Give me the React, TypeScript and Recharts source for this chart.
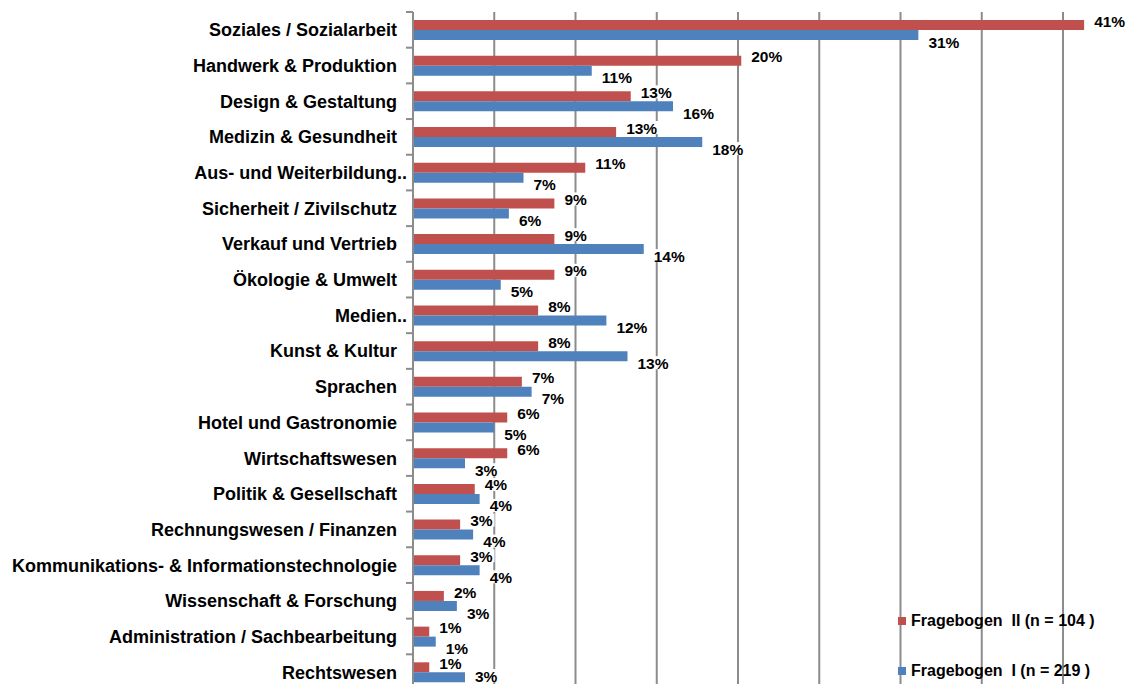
import React from 'react';
import { BarChart, Bar, XAxis, YAxis, CartesianGrid, LabelList, Legend } from 'recharts';

const categories = [
  'Soziales / Sozialarbeit',
  'Handwerk & Produktion',
  'Design & Gestaltung',
  'Medizin & Gesundheit',
  'Aus- und Weiterbildung..',
  'Sicherheit / Zivilschutz',
  'Verkauf und Vertrieb',
  'Ökologie & Umwelt',
  'Medien..',
  'Kunst & Kultur',
  'Sprachen',
  'Hotel und Gastronomie',
  'Wirtschaftswesen',
  'Politik & Gesellschaft',
  'Rechnungswesen / Finanzen',
  'Kommunikations- & Informationstechnologie',
  'Wissenschaft & Forschung',
  'Administration / Sachbearbeitung',
  'Rechtswesen',
];

// Fragebogen II (n = 104), percent
const fragebogenII = [41.3, 20.2, 13.4, 12.5, 10.6, 8.7, 8.7, 8.7, 7.7, 7.7, 6.7, 5.8, 5.8, 3.8, 2.9, 2.9, 1.9, 1.0, 1.0];
// Fragebogen I (n = 219), percent
const fragebogenI = [31.1, 11.0, 16.0, 17.8, 6.8, 5.9, 14.2, 5.4, 11.9, 13.2, 7.3, 5.0, 3.2, 4.1, 3.7, 4.1, 2.7, 1.4, 3.2];

const seriesNames = ['Fragebogen  II (n = 104 )', 'Fragebogen  I (n = 219 )'];
const xTicks = [0, 5, 10, 15, 20, 25, 30, 35, 40];

const data = categories.map((c, i) => ({ category: c, f2: fragebogenII[i], f1: fragebogenI[i] }));

const RED = '#C0504D';
const BLUE = '#4F81BD';
const GRID = '#8C8C8C';
const FONT = '"Liberation Sans", Arial, Helvetica, sans-serif';
const PLOT_TOP = 4;
const PLOT_H = 678;
const BAND = PLOT_H / categories.length;
const AXIS_X = 405;
const X_MAX = 44;

const CategoryTick = (props: any) => {
  const { y, payload, index } = props;
  const label = String(payload.value);
  const hang = label.endsWith('..');
  const main = hang ? label.slice(0, -2) : label;
  const tx = AXIS_X - 16;
  const yy = Number(y);
  return (
    <g>
      <line x1={AXIS_X - 7} x2={AXIS_X} y1={yy - BAND / 2} y2={yy - BAND / 2} stroke={GRID} strokeWidth={2} />
      {index === categories.length - 1 && (
        <line x1={AXIS_X - 7} x2={AXIS_X} y1={yy + BAND / 2} y2={yy + BAND / 2} stroke={GRID} strokeWidth={2} />
      )}
      <text x={tx} y={yy} dy="0.36em" textAnchor="end" fontFamily={FONT} fontWeight={700} fontSize={18} fill="#000">
        {main}
      </text>
      {hang && (
        <text x={tx} y={yy} dy="0.36em" textAnchor="start" fontFamily={FONT} fontWeight={700} fontSize={18} fill="#000">
          ..
        </text>
      )}
    </g>
  );
};

const makeLabel = (shift: number) => (props: any) => {
  const x = Number(props.x);
  const y = Number(props.y);
  const width = Number(props.width);
  const height = Number(props.height);
  const text = Math.round(Number(props.value)) + '%';
  const fs = 15.5;
  const tx = x + width + 10;
  const cy = Math.min(y + height / 2 + shift, PLOT_TOP + PLOT_H - 14);
  const w = (text.length - 1) * fs * 0.556 + fs * 0.889 + 4;
  return (
    <g>
      <rect x={tx - 2} y={cy - 7} width={w} height={13} fill="#fff" />
      <text x={tx} y={cy} dy="0.36em" fontFamily={FONT} fontWeight={700} fontSize={fs} fill="#000">
        {text}
      </text>
    </g>
  );
};

const redLabel = makeLabel(-4);
const blueLabel = makeLabel(7);

const renderLegend = (props: any) => {
  const order = ['f2', 'f1'];
  const payload = [...(props.payload || [])].sort(
    (a: any, b: any) => order.indexOf(String(a.dataKey)) - order.indexOf(String(b.dataKey))
  );
  return (
    <div style={{ fontFamily: FONT, fontWeight: 700, fontSize: 16, color: '#000' }}>
      {payload.map((p: any, i: number) => (
        <div
          key={i}
          style={{ display: 'flex', alignItems: 'center', height: 20, marginBottom: i === 0 ? 30 : 0, whiteSpace: 'pre' }}
        >
          <span style={{ display: 'inline-block', width: 8, height: 8, background: p.color, marginRight: 5 }} />
          <span>{p.value}</span>
        </div>
      ))}
    </div>
  );
};

const gridGenerator = (args: any) => {
  const xAxis = args && args.xAxis;
  const offset = args && args.offset;
  if (xAxis && typeof xAxis.scale === 'function') {
    return xTicks.map((t) => Number(xAxis.scale(t)));
  }
  return xTicks.map((t) => offset.left + (t / X_MAX) * offset.width);
};

export default function App() {
  return (
    <div style={{ width: 1126, height: 676, overflow: 'hidden', position: 'relative' }}>
      <BarChart
        width={1126}
        height={690}
        data={data}
        layout="vertical"
        barGap={0}
        margin={{ top: PLOT_TOP, right: 6, bottom: 8, left: 0 }}
      >
        <CartesianGrid
          horizontal={false}
          vertical={true}
          stroke={GRID}
          strokeWidth={2}
          verticalCoordinatesGenerator={gridGenerator}
        />
        <XAxis
          type="number"
          domain={[0, X_MAX]}
          ticks={xTicks}
          height={0}
          tick={() => <g />}
          axisLine={false}
          tickLine={false}
        />
        <YAxis
          type="category"
          dataKey="category"
          width={AXIS_X}
          axisLine={{ stroke: GRID, strokeWidth: 2 }}
          tickLine={false}
          interval={0}
          tick={<CategoryTick />}
        />
        <Legend
          layout="vertical"
          align="center"
          verticalAlign="middle"
          content={renderLegend}
          wrapperStyle={{ left: 890, top: 603, width: 'auto', height: 'auto' }}
        />
        <Bar dataKey="f2" name={seriesNames[0]} fill={RED} barSize={10} isAnimationActive={false}>
          <LabelList dataKey="f2" content={redLabel} />
        </Bar>
        <Bar dataKey="f1" name={seriesNames[1]} fill={BLUE} barSize={10} isAnimationActive={false}>
          <LabelList dataKey="f1" content={blueLabel} />
        </Bar>
      </BarChart>
    </div>
  );
}
